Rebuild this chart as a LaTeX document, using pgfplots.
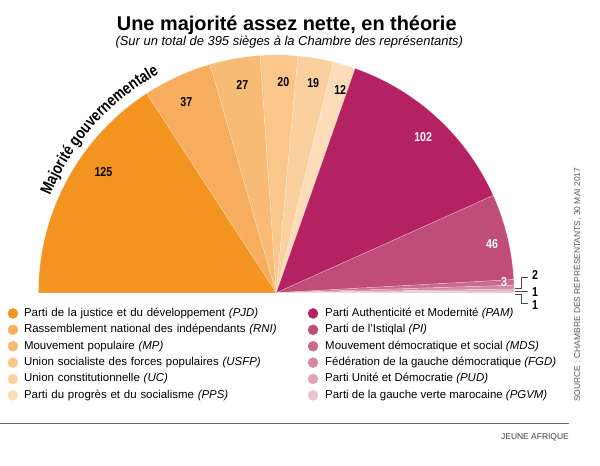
\documentclass[border=0pt]{standalone}
\usepackage{fontspec}
\setmainfont{Liberation Sans}
\newfontfamily\condfont{Liberation Sans}[FakeStretch=0.82]
\usepackage{pgfplots}
\pgfplotsset{compat=1.18}
\usetikzlibrary{decorations.text}

\definecolor{cPJD}{HTML}{F39420}
\definecolor{cRNI}{HTML}{F6AE5E}
\definecolor{cMP}{HTML}{F8BB75}
\definecolor{cUSFP}{HTML}{FAC68A}
\definecolor{cUC}{HTML}{FBD09F}
\definecolor{cPPS}{HTML}{FDDDB9}
\definecolor{cPAM}{HTML}{B52264}
\definecolor{cPI}{HTML}{C04D78}
\definecolor{cMDS}{HTML}{CA6A8F}
\definecolor{cFGD}{HTML}{D488A5}
\definecolor{cPUD}{HTML}{DEA5BA}
\definecolor{cPGVM}{HTML}{E8C3D0}

% #1 = first seat (cumulative), #2 = number of seats, #3 = colour
\newcommand\seats[3]{%
  \addplot[forget plot, fill=#3, draw=white, draw opacity=0.35, line width=0.5bp,
           domain=#1:#1+#2, samples=80]
    ({276+238*cos(180-x*180/395)}, {173+238*sin(180-x*180/395)}) -- (276,173) -- cycle;
}
\newcommand\dotentry[2]{%
  \addlegendimage{legend image code/.code={\fill[#1] (5bp,0bp) circle (5bp);}}
  \addlegendentry{#2}%
}

\begin{document}
\begin{tikzpicture}
\begin{axis}[
  width=600bp, height=466bp, scale only axis,
  xmin=0, xmax=600, ymin=0, ymax=466,
  hide axis, clip=false,
  legend columns=2,
  legend cell align=left,
  legend style={at={(0.011667,0.33906)}, anchor=north west, draw=none, fill=none,
    inner sep=0pt, row sep=5.4bp,
    font=\fontsize{11.5}{13}\selectfont,
    nodes={inner sep=0pt, text height=8.5bp, text depth=2.5bp},
    /tikz/column 1/.style={column sep=6bp},
    /tikz/column 2/.style={column sep=6bp, nodes={text width=278bp}},
    /tikz/column 3/.style={column sep=7bp}},
]
\path (0,0) rectangle (600,466);
% gouvernement (left)
\seats{0}{125}{cPJD}
\seats{125}{37}{cRNI}
\seats{162}{27}{cMP}
\seats{189}{20}{cUSFP}
\seats{209}{19}{cUC}
\seats{228}{12}{cPPS}
% others (right)
\seats{240}{102}{cPAM}
\seats{342}{46}{cPI}
\seats{388}{3}{cMDS}
\seats{391}{2}{cFGD}
\seats{393}{1}{cPUD}
\seats{394}{1}{cPGVM}

\dotentry{cPJD}{Parti de la justice et du développement \textit{(PJD)}}
\dotentry{cPAM}{Parti Authenticité et Modernité \textit{(PAM)}}
\dotentry{cRNI}{Rassemblement national des indépendants \textit{(RNI)}}
\dotentry{cPI}{Parti de l’Istiqlal \textit{(PI)}}
\dotentry{cMP}{Mouvement populaire \textit{(MP)}}
\dotentry{cMDS}{Mouvement démocratique et social \textit{(MDS)}}
\dotentry{cUSFP}{Union socialiste des forces populaires \textit{(USFP)}}
\dotentry{cFGD}{Fédération de la gauche démocratique \textit{(FGD)}}
\dotentry{cUC}{Union constitutionnelle \textit{(UC)}}
\dotentry{cPUD}{Parti Unité et Démocratie \textit{(PUD)}}
\dotentry{cPPS}{Parti du progrès et du socialisme \textit{(PPS)}}
\dotentry{cPGVM}{Parti de la gauche verte marocaine \textit{(PGVM)}}

% value labels
\begin{scope}[every node/.style={font=\condfont\bfseries\fontsize{13}{13}\selectfont, inner sep=0pt}]
\node at (103,294) {125};
\node at (186,364) {37};
\node at (242,381) {27};
\node at (283,384) {20};
\node at (313,383) {19};
\node at (340,376) {12};
\node[white] at (423,329) {102};
\node[white] at (492,222) {46};
\node[white] at (504,184) {3};
\node at (535,191) {2};
\node at (535,174) {1};
\node at (535,161) {1};
\end{scope}
\draw[black!70, line width=0.6bp] (515,177) -- (521.5,177) -- (521.5,188) -- (528,188);
\draw[black!70, line width=0.6bp] (515,174) -- (528,174);
\draw[black!70, line width=0.6bp] (515,171) -- (521.5,171) -- (521.5,162) -- (528,162);

% curved heading
\path[decorate, decoration={text along path, text align=left,
  text={|\condfont\bfseries\fontsize{16.5}{16.5}\selectfont|Majorité gouvernementale}}]
  (49.7,269.9) arc[start angle=157.8, end angle=105, radius=245bp];

% titles
\node[anchor=base, inner sep=0pt] at (286.5,435) {\bfseries\fontsize{20}{20}\selectfont Une majorité assez nette, en théorie};
\node[anchor=base, inner sep=0pt] at (289,420) {\itshape\fontsize{13}{13}\selectfont (Sur un total de 395 sièges à la Chambre des représentants)};

% source
\node[rotate=90, inner sep=0pt, text=black!65] at (577,181) {\fontsize{8.5}{8.5}\selectfont SOURCE : CHAMBRE DES REPRÉSENTANTS, 30 MAI 2017};
\draw[black!60, line width=1bp] (0,42) -- (569,42);
\node[anchor=east, inner sep=0pt, text=black!75] at (569,28) {\fontsize{8.5}{8.5}\selectfont JEUNE AFRIQUE};
\end{axis}
\end{tikzpicture}
\end{document}
